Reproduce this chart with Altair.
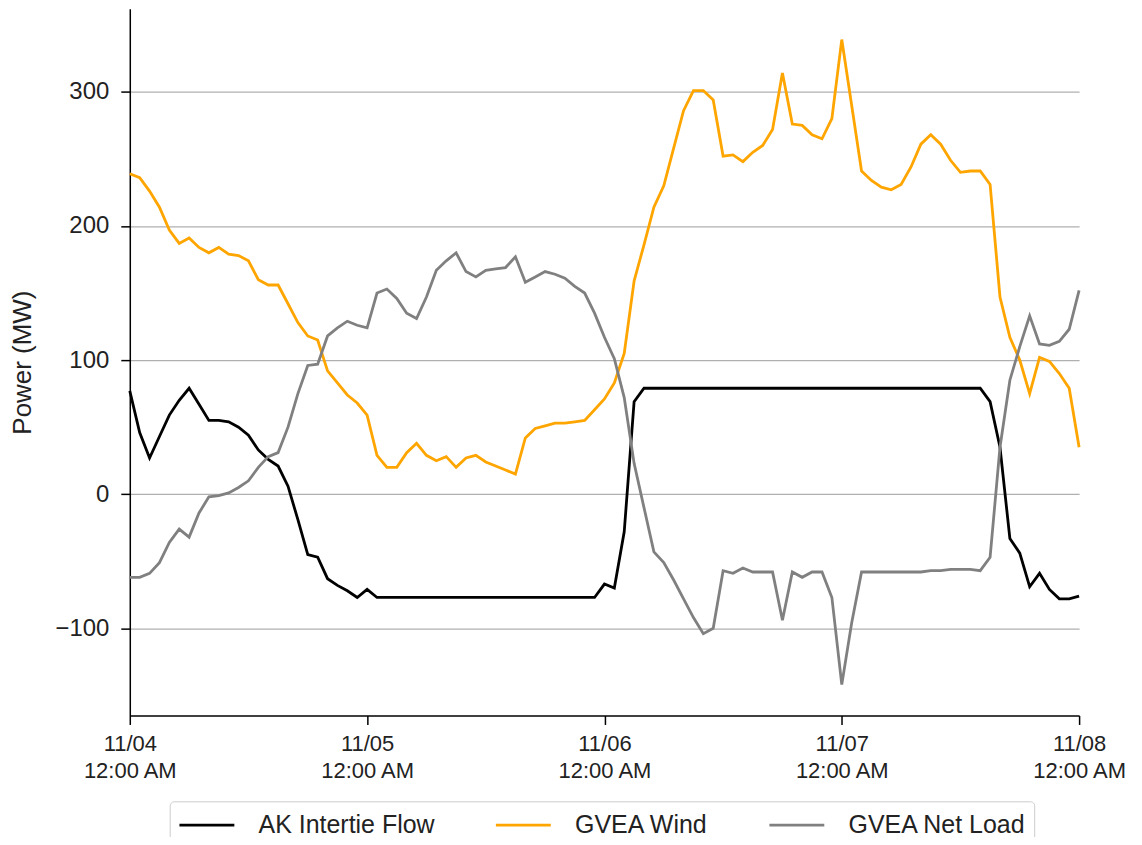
import altair as alt
import pandas as pd

start = "2022-11-04"
hours = 97

ak_flow = [77, 46, 27, 43, 59, 70, 79, 67, 55, 55, 54, 50, 44, 33, 26, 21, 6, -19, -45, -47,
           -63, -68, -72, -77, -71, -77] + [-77] * 22 + [-67, -70, -28, 69] + [79] * 35 + \
          [69, 35, -33, -44, -69, -59, -71, -78, -78, -76]

gvea_wind = [239, 236, 226, 214, 197, 187, 191, 184, 180, 184, 179, 178, 174, 160, 156, 156, 142, 128, 118, 115,
             92, 83, 74, 68, 59, 29, 20, 20, 31, 38, 29, 25, 28, 20, 27, 29, 24, 21, 18, 15,
             42, 49, 51, 53, 53, 54, 55, 63, 71, 83, 105, 159, 186, 214, 230, 258, 286, 301, 301, 294,
             252, 253, 248, 255, 260, 272, 314, 276, 275, 268, 265, 280, 339, 290, 241, 234, 229, 227, 231, 244,
             261, 268, 261, 249, 240, 241, 241, 231, 147, 117, 100, 75, 102, 99, 90, 79, 35]

gvea_net_load = [-62, -62, -59, -51, -36, -26, -32, -14, -2, -1, 1, 5, 10, 20, 28, 31, 50, 75, 96, 97,
                 118, 124, 129, 126, 124, 150, 153, 146, 135, 131, 147, 167, 174, 180, 166, 162, 167, 168, 169, 177,
                 158, 162, 166, 164, 161, 155, 150, 135, 117, 101, 72, 23, -10, -43, -51, -64, -78, -92, -104, -100,
                 -57, -59, -55, -58, -58, -58, -94, -58, -62, -58, -58, -77, -142, -96, -58, -58, -58, -58, -58, -58,
                 -58, -57, -57, -56, -56, -56, -57, -47, 35, 85, 110, 133, 112, 111, 114, 123, 152]

series_names = ["AK Intertie Flow", "GVEA Wind", "GVEA Net Load"]
series_colors = ["#000000", "#FFA500", "#808080"]
y_ticks = [-100, 0, 100, 200, 300]

times = pd.date_range(start, periods=hours, freq="h").strftime("%Y-%m-%dT%H:%M:%SZ").tolist()

rows = []
for name, vals in zip(series_names, [ak_flow, gvea_wind, gvea_net_load]):
    for t, v in zip(times, vals):
        rows.append({"time": t, "series": name, "value": v})
df = pd.DataFrame(rows)

FONT = "Liberation Sans"
TXT = "#222222"
day_ticks = [alt.DateTime(year=2022, month=11, date=d, hours=0, utc=True) for d in range(4, 9)]

chart = alt.Chart(df).mark_line(strokeWidth=2.8).encode(
    x=alt.X("time:T",
            scale=alt.Scale(type="utc",
                            domain=[alt.DateTime(year=2022, month=11, date=4, utc=True),
                                    alt.DateTime(year=2022, month=11, date=8, utc=True)]),
            axis=alt.Axis(values=day_ticks, title=None, grid=False,
                          labelExpr="[utcFormat(datum.value, '%m/%d'), utcFormat(datum.value, '%I:%M %p')]",
                          labelFont=FONT, labelFontSize=22, labelColor=TXT,
                          labelLineHeight=27, labelPadding=9, tickSize=9, tickColor="#000000",
                          domainColor="#000000", domainWidth=1.5, tickWidth=1.5,
                          labelOverlap=False, labelFlush=False)),
    y=alt.Y("value:Q",
            scale=alt.Scale(domain=[-165, 362], nice=False, zero=False),
            axis=alt.Axis(values=y_ticks, title="Power (MW)", grid=True,
                          gridColor="#b0b0b0", gridWidth=1.4,
                          labelFont=FONT, labelFontSize=24, labelColor=TXT,
                          labelPadding=12, tickSize=9, tickColor="#000000", tickWidth=1.5,
                          domainColor="#000000", domainWidth=1.5,
                          titleFont=FONT, titleFontSize=26, titleFontWeight="normal",
                          titleColor=TXT, titlePadding=19)),
    color=alt.Color("series:N",
                    scale=alt.Scale(domain=series_names, range=series_colors),
                    sort=series_names,
                    legend=alt.Legend(orient="none", legendX=40, legendY=794, direction="horizontal",
                                      title=None, symbolType="M-1,0H3", symbolSize=756,
                                      symbolStrokeWidth=2.8, labelFont=FONT, labelFontSize=25,
                                      labelLimit=400,
                                      labelColor=TXT, labelOffset=50, columnPadding=55,
                                      padding=8, strokeColor="#cccccc", cornerRadius=4,
                                      fillColor="#ffffff")),
).properties(
    width=951,
    height=708,
    autosize=alt.AutoSizeParams(type="none"),
    padding={"left": 122, "top": 0, "right": 55, "bottom": 121},
).configure_view(stroke=None).configure_axisX(grid=False)

chart.save("out.html", embed_options={"renderer": "svg", "actions": False})
